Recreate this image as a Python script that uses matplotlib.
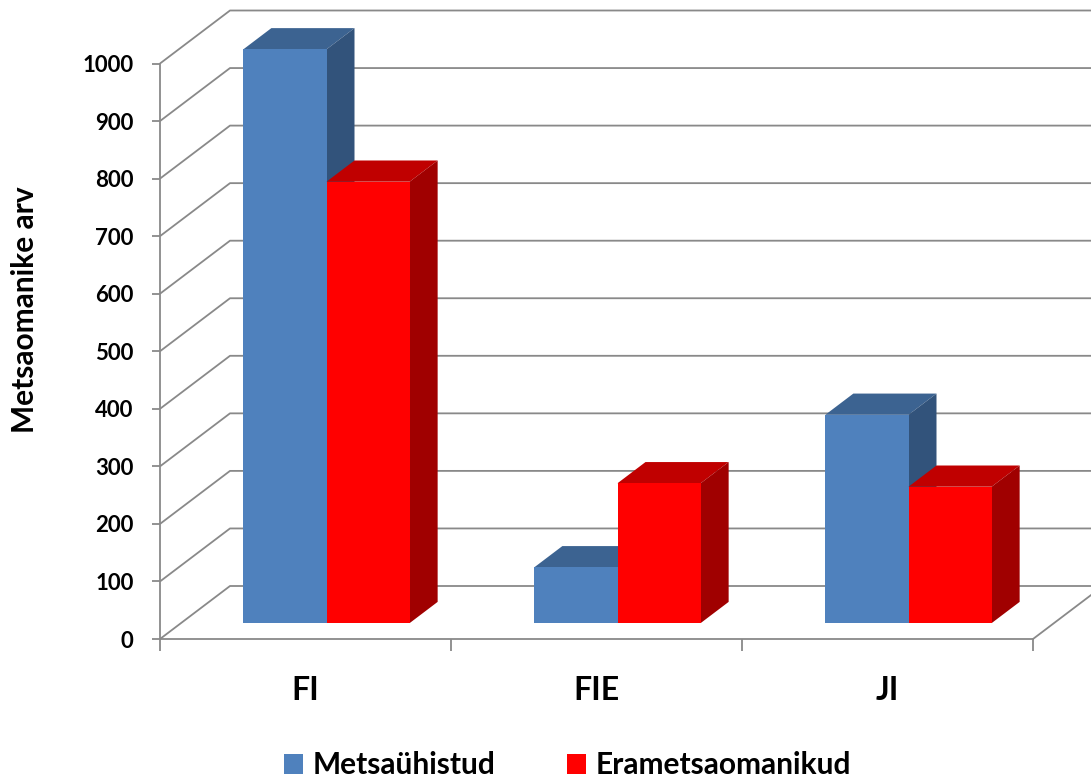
import matplotlib
matplotlib.use('Agg')
import matplotlib.pyplot as plt
from matplotlib.patches import Polygon, Patch

# ---- data ----
categories = ['FI', 'FIE', 'JI']
series_names = ['Metsaühistud', 'Erametsaomanikud']
metsauhistud = [997, 97, 362]
erametsaomanikud = [767, 243, 237]
y_ticks = [0, 100, 200, 300, 400, 500, 600, 700, 800, 900, 1000]
y_label = 'Metsaomanike arv'

plt.rcParams['font.family'] = ['Lato', 'DejaVu Sans']
plt.rcParams['font.weight'] = 'bold'

W, H = 1091, 784
fig = plt.figure(figsize=(W / 100, H / 100), dpi=100)
ax = fig.add_axes([160 / W, 1 - 639 / H, 873 / W, 575.5 / H])
ax.set_xlim(0, len(categories))
ax.set_ylim(0, 1000)

# oblique depth of the whole plot box, in data units
DX = 70 / 291
DY = 53 / 0.5755
grid_color = '#898989'
glw = 1.3

# walls: gridlines on side wall + back wall
for v in y_ticks:
    ax.plot([0, DX, len(categories) + DX], [v, v + DY, v + DY], color=grid_color,
            lw=glw, clip_on=False, zorder=1, solid_capstyle='butt')
# floor right edge
ax.plot([len(categories), len(categories) + DX], [0, DY], color=grid_color,
        lw=glw, clip_on=False, zorder=1)

# bars
series = [metsauhistud, erametsaomanikud]
face_colors = [('#4F81BD', '#3C6391', '#32537B'),
               ('#FF0000', '#C00000', '#A00000')]
bw = 1 / 3.5
f0, f1 = 0.3, 0.7
sx, sy = f0 * DX, f0 * DY
ddx, ddy = (f1 - f0) * DX, (f1 - f0) * DY
z = 3
for i in range(len(categories)):
    for s, vals in enumerate(series):
        v = vals[i]
        front, top, side = face_colors[s]
        x0 = i + (1 - 2 * bw) / 2 + s * bw + sx
        ax.add_patch(Polygon([(x0, sy + v), (x0 + bw, sy + v),
                              (x0 + bw + ddx, sy + v + ddy), (x0 + ddx, sy + v + ddy)],
                             closed=True, facecolor=top, edgecolor='none',
                             clip_on=False, zorder=z))
        ax.add_patch(Polygon([(x0 + bw, sy), (x0 + bw + ddx, sy + ddy),
                              (x0 + bw + ddx, sy + v + ddy), (x0 + bw, sy + v)],
                             closed=True, facecolor=side, edgecolor='none',
                             clip_on=False, zorder=z + 1))
        ax.bar(x0, v, width=bw, bottom=sy, align='edge', color=front,
               edgecolor='none', clip_on=False, zorder=z + 2)
        z += 3

# axes
for sp in ['top', 'right']:
    ax.spines[sp].set_visible(False)
for sp in ['left', 'bottom']:
    ax.spines[sp].set_color(grid_color)
    ax.spines[sp].set_linewidth(glw)
    ax.spines[sp].set_zorder(2)
ax.spines['left'].set_bounds(0, 1000)

ax.set_yticks(y_ticks)
ax.set_yticklabels([str(t) for t in y_ticks])
ax.tick_params(axis='y', direction='out', length=6, width=glw, color=grid_color,
               labelsize=16, pad=13)
for lab in ax.get_yticklabels():
    lab.set_fontweight('bold')

ax.set_xticks(range(len(categories) + 1))
ax.set_xticklabels([''] * (len(categories) + 1))
ax.tick_params(axis='x', direction='out', length=8.6, width=glw, color=grid_color)

for i, c in enumerate(categories):
    ax.annotate(c, xy=(i + 0.5, 0), xytext=(0, -43.9), textcoords='offset points',
                ha='center', va='baseline', fontsize=23, fontweight='bold',
                annotation_clip=False)

fig.text(25 / W, 1 - 310 / H, y_label, rotation=90, ha='center', va='center',
         fontsize=21.5, fontweight='bold')

handles = [Patch(facecolor=face_colors[k][0], edgecolor='none') for k in range(2)]
fig.legend(handles, series_names, loc='center', bbox_to_anchor=(0.52, 0.024),
           ncol=2, frameon=False, handlelength=0.65, handleheight=0.65,
           handletextpad=0.3, columnspacing=2.4, borderpad=0,
           prop={'weight': 'bold', 'size': 21.5})

fig.savefig('out.png', dpi=100, facecolor='white')
